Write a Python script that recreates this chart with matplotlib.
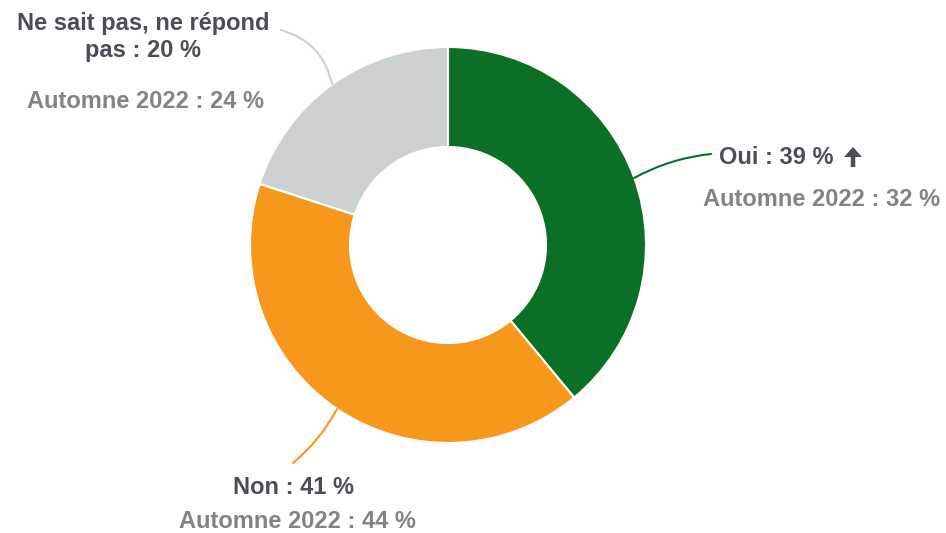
import matplotlib
matplotlib.use("Agg")
import matplotlib.pyplot as plt
from matplotlib.patches import FancyArrow

categories = ["Oui", "Non", "Ne sait pas, ne répond\npas"]
values = [39, 41, 20]
previous = [32, 44, 24]
colors = ["#0b7025", "#f7971b", "#cbd1d0"]

W, H = 946, 533
fig = plt.figure(figsize=(W / 100, H / 100), dpi=100)
ax = fig.add_axes([0, 0, 1, 1])
ax.set_xlim(0, W)
ax.set_ylim(0, H)
ax.set_aspect("equal")
ax.axis("off")

def Y(y):
    return H - y

cx, cy, R = 448, 245, 198
ax.pie(values, colors=colors, startangle=90, counterclock=False,
       radius=R, center=(cx, Y(cy)), frame=True,
       wedgeprops=dict(width=100, edgecolor="white", linewidth=1.5))
ax.set_xlim(0, W)
ax.set_ylim(0, H)
ax.axis("off")

dark = "#4b4e56"
grey = "#838383"
fs = 17
fam = ["Liberation Sans", "DejaVu Sans"]

def leader(p0, p1, color, rad):
    ax.annotate("", xy=(p1[0], Y(p1[1])), xytext=(p0[0], Y(p0[1])),
                arrowprops=dict(arrowstyle="-", color=color, lw=1.5,
                                connectionstyle=f"arc3,rad={rad}",
                                shrinkA=0, shrinkB=0))

leader((634, 178), (711, 154), colors[0], -0.1)
leader((337, 409), (293, 463), colors[1], -0.1)
leader((332, 84), (281, 30), colors[2], 0.3)

# Oui
ax.text(719, Y(157), f"{categories[0]} : {values[0]} %", ha="left", va="center",
        fontsize=fs, fontweight="bold", color=dark, family=fam)
ax.add_patch(FancyArrow(853, Y(167), 0, 20, width=4.5, head_width=18,
                        head_length=10, length_includes_head=True,
                        color=dark, lw=0))
ax.text(940, Y(200), f"Automne 2022 : {previous[0]} %", ha="right", va="center",
        fontsize=fs, fontweight="bold", color=grey, family=fam)

# Non
ax.text(293, Y(488), f"{categories[1]} : {values[1]} %", ha="center", va="center",
        fontsize=fs, fontweight="bold", color=dark, family=fam)
ax.text(297, Y(522), f"Automne 2022 : {previous[1]} %", ha="center", va="center",
        fontsize=fs, fontweight="bold", color=grey, family=fam)

# NSP
ax.text(143, Y(37), f"{categories[2]} : {values[2]} %", ha="center", va="center",
        fontsize=fs, fontweight="bold", color=dark, family=fam,
        linespacing=1.2)
ax.text(145, Y(102), f"Automne 2022 : {previous[2]} %", ha="center", va="center",
        fontsize=fs, fontweight="bold", color=grey, family=fam)

fig.savefig("out.png", dpi=100, facecolor="white")
